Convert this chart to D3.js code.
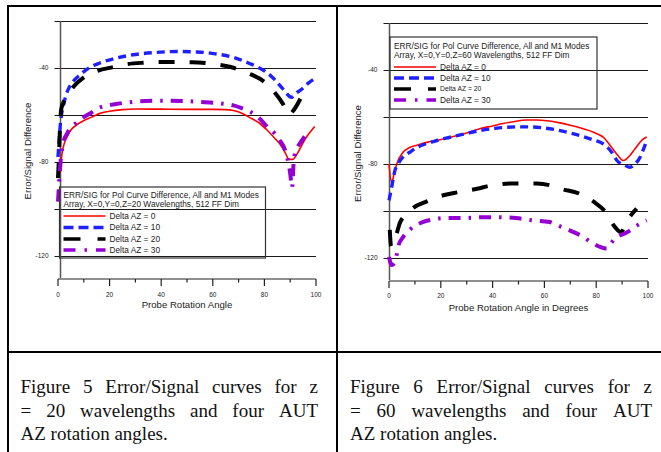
<!DOCTYPE html>
<html>
<head>
<meta charset="utf-8">
<script src="https://cdn.jsdelivr.net/npm/d3@7"></script>
<style>
  html, body { margin: 0; padding: 0; background: #fff; }
  svg { display: block; }
</style>
</head>
<body>
<svg id="page" width="661" height="452"></svg>
<script>
// ---- shared axis content ----
const xTickValues = [0, 10, 20, 30, 40, 50, 60, 70, 80, 90, 100];
const xTickLabels = [0, 20, 40, 60, 80, 100];
const yGridValues = [-20, -40, -60, -80, -100, -120];
const yTickLabels = [-40, -80, -120];
const seriesNames = ["Delta AZ = 0", "Delta AZ = 10", "Delta AZ = 20", "Delta AZ = 30"];
const seriesColors = ["#ff0000", "#1f1fff", "#000000", "#9400d3"];

// ---- Figure 5: z = 20 wavelengths ([angle, dB]) ----
const fig5Az0 = [[0.8,-85],[1.5,-77],[2.5,-72],[3.5,-69.5],[5,-66.5],[7,-64.5],[10,-62.5],[13,-61],[16,-59.5],[20,-58.5],[25,-57.8],[30,-57.5],[40,-57.6],[50,-57.7],[60,-57.7],[65,-57.8],[68,-58.2],[71,-59.2],[74,-61],[78,-63.5],[81,-66.5],[84,-70],[86,-72.5],[88,-76],[89.5,-79],[91,-79],[92.5,-77],[94,-74],[96,-70],[98,-67],[99.5,-65]];
const fig5Az10 = [[0,-78],[0.5,-70],[1,-63],[1.5,-59],[2,-56.5],[3,-52],[4.5,-48],[6.5,-45],[8.5,-43],[12,-40],[16,-38],[22,-36],[29,-34.4],[37,-33.5],[46,-33],[54,-33.2],[61,-34],[68,-35.5],[74,-38],[78,-40],[81,-42],[84,-45],[87,-48.7],[90.5,-52.5],[92,-51],[94,-49.5],[97,-46.5],[99.5,-44.5]];
const fig5Az20 = [[0,-87],[0.3,-80],[0.8,-65],[1.2,-58],[2,-55],[3.5,-52],[6,-48],[10,-44],[16,-41],[20,-40],[25,-38.7],[33,-37.8],[41,-37.5],[52,-37.6],[60,-38.3],[67,-39.6],[73,-42],[80,-46],[84,-50.5],[87,-55],[89.5,-60],[91,-58.5],[94.5,-52]];
const fig5Az30 = [[0,-97],[0.5,-88],[1,-80],[2,-72],[3.5,-68],[5,-65.5],[7,-63.5],[10,-61],[13,-59],[16,-57],[22,-55.5],[29,-54.5],[40,-54],[50,-54.2],[55,-54.5],[62,-55],[68,-56],[72,-57.5],[75,-59],[78,-61.5],[81,-65],[84,-68],[86,-71],[88,-75],[90,-85],[90.7,-91],[91.5,-78],[94.5,-71],[97,-67.5]];

// ---- Figure 6: z = 60 wavelengths ([angle, dB]) ----
const fig6Az0 = [[0,-80],[1,-88],[2,-84],[3,-80],[5.4,-75],[8,-73],[10.8,-72],[15,-70.7],[19.7,-69.7],[26,-68],[30,-66.8],[35,-65],[40,-63.8],[44,-62.8],[48,-62],[53,-61.3],[57,-61.3],[61,-61.6],[66,-62.5],[70,-63.5],[75,-65],[79,-66.5],[82.7,-68.6],[86,-73],[88.5,-76.5],[90.4,-78.5],[91.5,-78],[93,-76.4],[95,-73.5],[98,-69.5],[99.5,-68.5]];
const fig6Az10 = [[0,-95.5],[1,-90],[2.3,-82.7],[3.5,-80],[5.4,-77],[8,-75],[10.8,-73],[14,-71.5],[18.5,-70],[22,-69],[26,-68],[30,-67],[35,-65.8],[40,-65],[44,-64.5],[50,-64.2],[54.5,-64.2],[60,-64.7],[64.8,-65.5],[70,-66.8],[75,-68.3],[79,-69.8],[82.7,-71.4],[86,-75],[88,-78.5],[91,-80.5],[93,-81.4],[95,-80],[97,-77],[98.5,-73],[99.5,-70]];
const fig6Az20 = [[0.3,-108],[0.8,-115],[1.5,-114],[2.4,-111.6],[4.3,-104.8],[6.5,-101.5],[8.9,-99],[14.6,-95.9],[21,-93.3],[26.7,-92],[34,-90.5],[40,-89],[48,-88.3],[57,-88.3],[62,-89],[66,-90.5],[73.7,-92.7],[79,-96],[84,-101],[87,-106.5],[89.5,-109],[92,-104],[95.6,-99]];
const fig6Az30 = [[0,-119.5],[1,-123],[2.4,-121.7],[3.5,-115.3],[5.5,-111],[8,-108],[13,-104.7],[17,-103.6],[21,-103],[28.6,-103],[35,-102.7],[41.5,-102.6],[49,-103],[55.6,-104],[62,-104.7],[65,-106],[68.6,-107.7],[72,-109.3],[75,-111],[78,-113.3],[81.5,-115.3],[84,-116],[85.5,-114],[87,-112],[92,-109],[96,-106],[99.5,-104]];

const captionLeft = ["Figure 5 Error/Signal curves for z", "= 20 wavelengths and four AUT", "AZ rotation angles."];
const captionRight = ["Figure 6 Error/Signal curves for z", "= 60 wavelengths and four AUT", "AZ rotation angles."];

// ---- styling of each series ----
const lineStyles = [
  { width: 1.6, dash: null },
  { width: 3.4, dash: "8,5" },
  { width: 4, dash: "16,15" },
  { width: 4, dash: "12,8,2.5,8" }
];
const legendDash = [null, "10,5", "17,17", "12,9,2.5,9"];

const svg = d3.select("#page");
const sans = "'Liberation Sans', Arial, sans-serif";
const serif = "'Liberation Serif', 'Times New Roman', serif";

// ---- table frame ----
const frame = svg.append("g").attr("stroke", "#000").attr("stroke-width", 2);
frame.append("line").attr("x1", 7).attr("x2", 661).attr("y1", 6).attr("y2", 6);
frame.append("line").attr("x1", 8).attr("x2", 8).attr("y1", 5).attr("y2", 452);
frame.append("line").attr("x1", 337).attr("x2", 337).attr("y1", 5).attr("y2", 452);
frame.append("line").attr("x1", 7).attr("x2", 661).attr("y1", 352).attr("y2", 352);

function drawChart(cfg) {
  const x = d3.scaleLinear().domain([0, 100]).range([cfg.x0, cfg.x1]);
  const y = d3.scaleLinear().domain([-20, -120]).range([cfg.yTop, cfg.y120]);
  const g = svg.append("g");

  // horizontal grid lines (with outward ticks)
  g.append("g").selectAll("line").data(yGridValues).join("line")
    .attr("x1", cfg.yAxisX - 6).attr("x2", cfg.x1)
    .attr("y1", d => Math.round(y(d)) + 0.5).attr("y2", d => Math.round(y(d)) + 0.5)
    .attr("stroke", "#1a1a1a").attr("stroke-width", 1.2);

  // y axis line
  g.append("line").attr("x1", cfg.yAxisX).attr("x2", cfg.yAxisX)
    .attr("y1", y(-20)).attr("y2", cfg.xAxisY - 1)
    .attr("stroke", "#555").attr("stroke-width", 1.5);

  // y tick labels
  g.append("g").selectAll("text").data(yTickLabels).join("text")
    .attr("x", cfg.yAxisX - 12).attr("y", d => y(d))
    .attr("dy", "0.35em").attr("text-anchor", "end")
    .attr("font-family", sans).attr("font-size", 6.5).attr("fill", "#222")
    .text(d => d);

  // x axis, separated below the plot
  const xAxisG = g.append("g").attr("transform", `translate(0,${cfg.xAxisY})`);
  xAxisG.append("line").attr("x1", x(0)).attr("x2", x(100)).attr("y1", 0).attr("y2", 0)
    .attr("stroke", "#222").attr("stroke-width", 1.2);
  xAxisG.selectAll("line.tk").data(xTickValues).join("line").attr("class", "tk")
    .attr("x1", d => x(d)).attr("x2", d => x(d)).attr("y1", 0)
    .attr("y2", d => (d % 20 === 0 ? 7 : 3.5))
    .attr("stroke", "#222").attr("stroke-width", 1.2);
  xAxisG.selectAll("text").data(xTickLabels).join("text")
    .attr("x", d => x(d)).attr("y", cfg.xLabelDy).attr("text-anchor", "middle")
    .attr("font-family", sans).attr("font-size", 6.5).attr("fill", "#222")
    .text(d => d);

  // axis titles
  g.append("text").attr("x", (x(0) + x(100)) / 2).attr("y", cfg.xTitleY)
    .attr("text-anchor", "middle").attr("font-family", sans).attr("font-size", 9.6)
    .attr("fill", "#222").text(cfg.xTitle);
  g.append("text")
    .attr("transform", `translate(${cfg.yTitleX},${cfg.yTitleY}) rotate(-90)`)
    .attr("text-anchor", "middle").attr("dy", "0.35em")
    .attr("font-family", sans).attr("font-size", 9.6).attr("fill", "#222")
    .text("Error/Signal Difference");

  // curves
  const line = d3.line().x(d => x(d[0])).y(d => y(d[1])).curve(d3.curveMonotoneX);
  cfg.series.forEach((s, i) => {
    g.append("path").datum(s)
      .attr("d", line).attr("fill", "none")
      .attr("stroke", seriesColors[i])
      .attr("stroke-width", lineStyles[i].width)
      .attr("stroke-dasharray", lineStyles[i].dash)
      .attr("stroke-linejoin", "round");
  });

  // legend (transparent box)
  const L = cfg.legend;
  const lg = g.append("g");
  lg.append("rect").attr("x", L.x).attr("y", L.y).attr("width", L.w).attr("height", L.h)
    .attr("fill", "none").attr("stroke", "#333").attr("stroke-width", 1.2);
  L.title.forEach((t, k) => {
    lg.append("text").attr("x", L.x + 4).attr("y", L.titleY[k]).attr("dy", "0.35em")
      .attr("font-family", sans).attr("font-size", 8.3).attr("fill", "#222").text(t);
  });
  seriesNames.forEach((name, i) => {
    const yy = L.rowY[i];
    lg.append("line").attr("x1", L.x + 4).attr("x2", L.x + 46).attr("y1", yy).attr("y2", yy)
      .attr("stroke", seriesColors[i])
      .attr("stroke-width", i === 0 ? 1.6 : 3.4)
      .attr("stroke-dasharray", legendDash[i]);
    lg.append("text").attr("x", L.x + 50).attr("y", yy).attr("dy", "0.35em")
      .attr("font-family", sans).attr("font-size", L.fontSizes[i]).attr("fill", "#222")
      .text(name);
  });
}

drawChart({
  x0: 58, x1: 316, yTop: 21, y120: 255.5, yAxisX: 60.5, xAxisY: 279, xLabelDy: 18,
  xTitle: "Probe Rotation Angle", xTitleY: 307.5, yTitleX: 28, yTitleY: 151,
  series: [fig5Az0, fig5Az10, fig5Az20, fig5Az30],
  legend: {
    x: 59.5, y: 187, w: 206, h: 71,
    title: ["ERR/SIG for Pol Curve Difference, All and M1 Modes", "Array, X=0,Y=0,Z=20 Wavelengths, 512 FF Dim"],
    titleY: [195, 204], rowY: [216, 227.5, 239, 250],
    fontSizes: [8.3, 8.3, 8.3, 8.3]
  }
});

drawChart({
  x0: 389, x1: 648, yTop: 23, y120: 258, yAxisX: 389.5, xAxisY: 281, xLabelDy: 17,
  xTitle: "Probe Rotation Angle in Degrees", xTitleY: 310.5, yTitleX: 358, yTitleY: 153.5,
  series: [fig6Az0, fig6Az10, fig6Az20, fig6Az30],
  legend: {
    x: 390, y: 37, w: 207, h: 72,
    title: ["ERR/SIG for Pol Curve Difference, All and M1 Modes", "Array, X=0,Y=0,Z=60 Wavelengths, 512 FF Dim"],
    titleY: [46, 55], rowY: [67, 78, 89, 100],
    fontSizes: [8.3, 8.3, 6.8, 8.3]
  }
});

// ---- justified captions ----
function caption(lines, xL, xR, baselines) {
  const g = svg.append("g").attr("font-family", serif).attr("font-size", 19).attr("fill", "#111");
  lines.forEach((ln, li) => {
    const words = ln.split(" ");
    const t = g.append("text").attr("y", baselines[li]);
    const spans = words.map(w => t.append("tspan").text(w));
    const widths = spans.map(s => s.node().getComputedTextLength());
    const last = li === lines.length - 1;
    const total = d3.sum(widths);
    const gap = last ? 4.75 : (xR - xL - total) / (words.length - 1);
    let cx = xL;
    spans.forEach((s, k) => { s.attr("x", cx); cx += widths[k] + gap; });
  });
}
caption(captionLeft, 20.5, 318, [393, 417, 440]);
caption(captionRight, 350, 652, [393, 417, 440]);
</script>
</body>
</html>
